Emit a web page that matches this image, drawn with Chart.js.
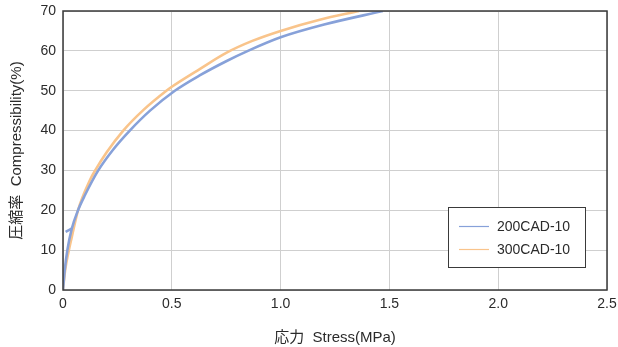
<!DOCTYPE html>
<html>
<head>
<meta charset="utf-8">
<script src="https://cdn.jsdelivr.net/npm/chart.js@4.4.1/dist/chart.umd.min.js"></script>
<style>
  html, body { margin: 0; padding: 0; background: #fff; }
  #wrap { width: 618px; height: 347px; position: relative; }
</style>
</head>
<body>
<div id="wrap"><canvas id="chart" width="618" height="347"></canvas></div>
<script>
// series
const seriesNames = ['200CAD-10', '300CAD-10'];

// 200CAD-10 (blue)
const blueX = [0, 0.008, 0.02, 0.04, 0.069, 0.1, 0.162, 0.23, 0.307, 0.4, 0.514, 0.63, 0.75, 0.85, 1.0, 1.2, 1.47];
const blueY = [0, 5, 10, 15.3, 20, 23.7, 30, 35.2, 40, 45, 50, 53.9, 57.4, 60, 63.4, 66.6, 70];
// small hook of the blue curve near 15 %
const hookX = [0.046, 0.012];
const hookY = [15.6, 14.6];

// 300CAD-10 (orange)
const orangeX = [0, 0.01, 0.025, 0.04, 0.069, 0.124, 0.15, 0.2, 0.277, 0.37, 0.475, 0.5, 0.63, 0.75, 0.87, 1.0, 1.18, 1.36];
const orangeY = [0, 5, 9.5, 13.2, 20, 27.6, 30.2, 34.5, 40, 45.2, 50, 51, 55.5, 59.5, 62.5, 65, 67.8, 70];

const xTicks = [0, 0.5, 1.0, 1.5, 2.0, 2.5];
const yTicks = [0, 10, 20, 30, 40, 50, 60, 70];

const colors = ['#87a1d9', '#f9c48b'];
const textColor = '#2b2b2b';
const fontFamily = '"Liberation Sans", Arial, "Noto Sans CJK JP", sans-serif';

function toPoints(xs, ys) {
  return xs.map((x, i) => ({ x, y: ys[i] }));
}

// frame around plot area + legend box inside the plot
const framePlugin = {
  id: 'frame',
  afterDraw(chart) {
    const { ctx, chartArea: a } = chart;
    ctx.save();
    ctx.strokeStyle = '#3a3a3a';
    ctx.lineWidth = 1.5;
    ctx.strokeRect(a.left, a.top, a.right - a.left, a.bottom - a.top);

    // legend
    const lx = 448, ly = 207, lw = 137, lh = 60;
    ctx.fillStyle = '#fff';
    ctx.fillRect(lx, ly, lw, lh);
    ctx.strokeStyle = '#3a3a3a';
    ctx.lineWidth = 1;
    ctx.strokeRect(lx + 0.5, ly + 0.5, lw, lh);
    ctx.font = '14px ' + fontFamily;
    ctx.textBaseline = 'middle';
    chart.data.datasets.slice(0, 2).forEach((ds, i) => {
      const y = ly + 19 + i * 23;
      ctx.strokeStyle = ds.borderColor;
      ctx.lineWidth = 1.2;
      ctx.beginPath();
      ctx.moveTo(lx + 11, y + 0.5);
      ctx.lineTo(lx + 41, y + 0.5);
      ctx.stroke();
      ctx.fillStyle = textColor;
      ctx.fillText(ds.label, lx + 49, y + 1);
    });
    ctx.restore();
  }
};

const lineStyle = {
  showLine: true,
  borderWidth: 2.6,
  pointRadius: 0,
  cubicInterpolationMode: 'monotone'
};

new Chart(document.getElementById('chart').getContext('2d'), {
  type: 'scatter',
  data: {
    datasets: [
      { label: seriesNames[0], data: toPoints(blueX, blueY), borderColor: colors[0], ...lineStyle },
      { label: seriesNames[1], data: toPoints(orangeX, orangeY), borderColor: colors[1], ...lineStyle },
      { label: 'hook', data: toPoints(hookX, hookY), borderColor: colors[0], ...lineStyle }
    ]
  },
  options: {
    responsive: false,
    animation: false,
    layout: { padding: { left: 0, top: 11, right: 11, bottom: 0 } },
    plugins: {
      legend: { display: false },
      tooltip: { enabled: false }
    },
    scales: {
      x: {
        type: 'linear',
        min: 0,
        max: 2.5,
        afterBuildTicks: s => { s.ticks = xTicks.map(v => ({ value: v })); },
        afterFit: s => { s.height = 57; s.paddingLeft = 0; s.paddingRight = 0; },
        grid: { color: '#cfcfcf', lineWidth: 1, drawTicks: false },
        border: { display: false },
        ticks: {
          color: textColor,
          padding: 6,
          maxRotation: 0,
          font: { family: fontFamily, size: 14 },
          callback: v => (v === 0 ? '0' : v.toFixed(1))
        },
        title: {
          display: true,
          text: '応力  Stress(MPa)',
          color: textColor,
          font: { family: fontFamily, size: 15 },
          padding: { top: 5, bottom: 0 }
        }
      },
      y: {
        type: 'linear',
        min: 0,
        max: 70,
        afterBuildTicks: s => { s.ticks = yTicks.map(v => ({ value: v })); },
        afterFit: s => { s.width = 63; s.paddingTop = 0; s.paddingBottom = 0; },
        grid: { color: '#cfcfcf', lineWidth: 1, drawTicks: false },
        border: { display: false },
        ticks: {
          color: textColor,
          padding: 7,
          font: { family: fontFamily, size: 14 }
        },
        title: {
          display: true,
          text: '圧縮率  Compressibility(%)',
          color: textColor,
          font: { family: fontFamily, size: 15 },
          padding: { top: 8, bottom: 4 }
        }
      }
    }
  },
  plugins: [framePlugin]
});
</script>
</body>
</html>
